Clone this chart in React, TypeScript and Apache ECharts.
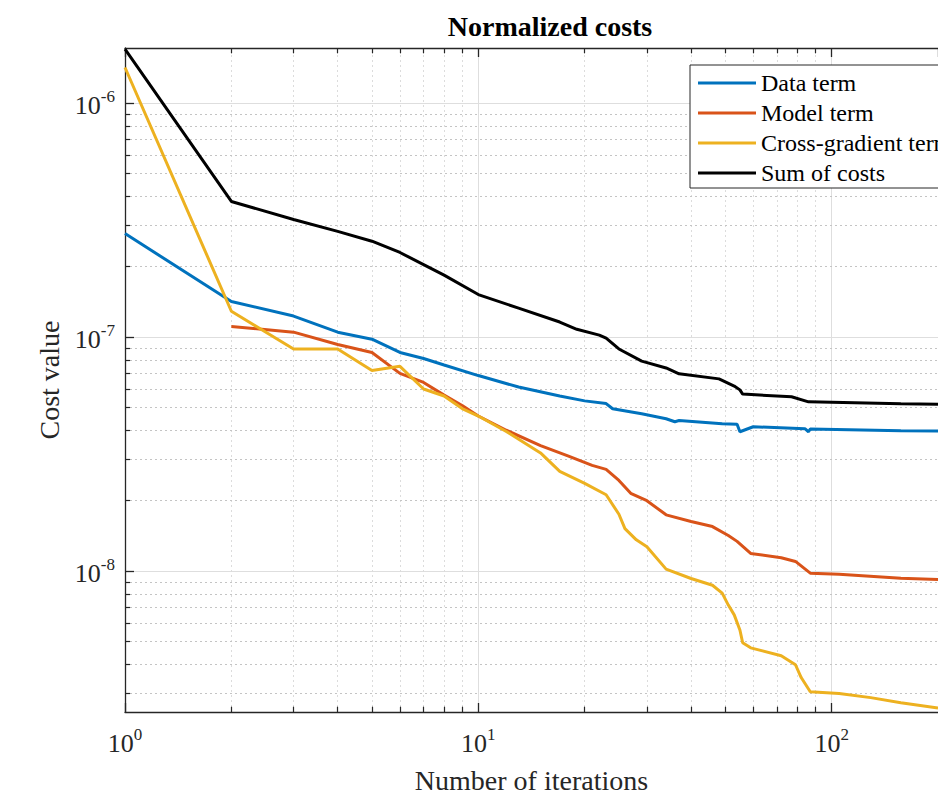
import React, { useEffect, useRef } from "react";
import * as echarts from "echarts";

// ---- Data ----
const iterSum = [1, 2, 3, 4, 5, 6, 7, 8, 10, 13, 17, 19, 22, 23, 25, 29, 34, 37, 48, 53, 55, 56, 77, 86, 157, 200];
const costSum = [1.7e-6, 3.8e-7, 3.18e-7, 2.83e-7, 2.57e-7, 2.3e-7, 2.04e-7, 1.84e-7, 1.52e-7, 1.33e-7, 1.16e-7, 1.08e-7, 1.02e-7, 9.9e-8, 8.9e-8, 7.9e-8, 7.38e-8, 6.97e-8, 6.63e-8, 6.18e-8, 5.95e-8, 5.71e-8, 5.56e-8, 5.29e-8, 5.19e-8, 5.17e-8];

const iterData = [1, 2, 3, 4, 5, 6, 7, 8, 10, 13, 17, 20, 23, 24, 29, 34, 36, 37, 49, 54, 55, 60, 84, 86, 87, 157, 200];
const costData = [2.77e-7, 1.42e-7, 1.23e-7, 1.05e-7, 9.8e-8, 8.6e-8, 8.1e-8, 7.6e-8, 6.85e-8, 6.12e-8, 5.6e-8, 5.34e-8, 5.2e-8, 4.94e-8, 4.7e-8, 4.48e-8, 4.35e-8, 4.4e-8, 4.26e-8, 4.24e-8, 3.94e-8, 4.14e-8, 4.06e-8, 3.94e-8, 4.05e-8, 3.98e-8, 3.97e-8];

const iterModel = [2, 3, 4, 5, 6, 7, 8, 9, 10, 12, 15, 18, 21, 23, 25, 27, 30, 34, 40, 46, 51, 54, 59, 72, 79, 87, 105, 157, 200];
const costModel = [1.11e-7, 1.05e-7, 9.3e-8, 8.6e-8, 7.0e-8, 6.4e-8, 5.65e-8, 5.1e-8, 4.6e-8, 4.0e-8, 3.44e-8, 3.1e-8, 2.83e-8, 2.72e-8, 2.44e-8, 2.15e-8, 2.0e-8, 1.74e-8, 1.63e-8, 1.55e-8, 1.42e-8, 1.34e-8, 1.19e-8, 1.14e-8, 1.1e-8, 9.8e-9, 9.7e-9, 9.33e-9, 9.2e-9];

const iterCross = [1, 2, 3, 4, 5, 6, 7, 8, 9, 10, 12, 15, 17, 20, 23, 25, 26, 28, 30, 34, 40, 46, 49, 51, 53, 55, 56, 59, 72, 79, 82, 87, 105, 129, 157, 200];
const costCross = [1.42e-6, 1.29e-7, 8.9e-8, 8.9e-8, 7.2e-8, 7.5e-8, 6.0e-8, 5.6e-8, 4.95e-8, 4.6e-8, 3.95e-8, 3.2e-8, 2.67e-8, 2.37e-8, 2.12e-8, 1.75e-8, 1.52e-8, 1.36e-8, 1.27e-8, 1.02e-8, 9.3e-9, 8.7e-9, 8.05e-9, 7.16e-9, 6.5e-9, 5.6e-9, 4.94e-9, 4.7e-9, 4.35e-9, 3.98e-9, 3.51e-9, 3.05e-9, 3.0e-9, 2.88e-9, 2.74e-9, 2.6e-9];

const seriesNames = ["Data term", "Model term", "Cross-gradient term", "Sum of costs"];

const xMinor = [2, 3, 4, 5, 6, 7, 8, 9, 20, 30, 40, 50, 60, 70, 80, 90];
const yMinor = [3e-9, 4e-9, 5e-9, 6e-9, 7e-9, 8e-9, 9e-9, 2e-8, 3e-8, 4e-8, 5e-8, 6e-8, 7e-8, 8e-8, 9e-8, 2e-7, 3e-7, 4e-7, 5e-7, 6e-7, 7e-7, 8e-7, 9e-7];

const X_MIN = 1;
const X_MAX = 200;
const Y_MIN = 2.5e-9;
const Y_MAX = 1.72e-6;

const FONT = '"Liberation Serif", "Times New Roman", serif';
const AXIS_COLOR = "#262626";

const pairs = (xs: number[], ys: number[]) => xs.map((x, i) => [x, ys[i]]);

const powLabel = (v: number) => {
  const e = Math.log10(v);
  const r = Math.round(e);
  if (Math.abs(e - r) > 1e-6) return "";
  return `{b|10}{s|${r}}`;
};

const richPow = {
  b: { fontFamily: FONT, fontSize: 26, color: AXIS_COLOR, lineHeight: 30, verticalAlign: "bottom" },
  s: { fontFamily: FONT, fontSize: 17, color: AXIS_COLOR, lineHeight: 20, verticalAlign: "top" },
};

// minor tick length expressed as a fraction of each log axis span
const TICK_FRAC = 0.008;

export default function App() {
  const ref = useRef<HTMLDivElement>(null);

  useEffect(() => {
    document.body.style.margin = "0";
    const chart = echarts.init(ref.current as HTMLDivElement, undefined, { renderer: "svg" });

    const lxMin = Math.log10(X_MIN);
    const lxMax = Math.log10(X_MAX);
    const lyMin = Math.log10(Y_MIN);
    const lyMax = Math.log10(Y_MAX);
    const xTickEnd = Math.pow(10, lxMin + (lxMax - lxMin) * TICK_FRAC * (665 / 851));
    const yTickLo = Math.pow(10, lyMin + (lyMax - lyMin) * TICK_FRAC);
    const yTickHi = Math.pow(10, lyMax - (lyMax - lyMin) * TICK_FRAC);

    const lineSeries = (name: string, data: number[][], color: string) => ({
      name,
      type: "line",
      data,
      symbol: "none",
      showSymbol: false,
      clip: true,
      lineStyle: { color, width: 3 },
      itemStyle: { color },
      z: 5,
    });

    const gridV = { type: [2, 3], color: "#dcdcdc", width: 1 };
    const gridH = { type: [2, 3], color: "#c4c4c4", width: 1 };
    const tickStyle = { type: "solid", color: AXIS_COLOR, width: 1.2 };

    const option: any = {
      animation: false,
      backgroundColor: "#ffffff",
      title: {
        text: "Normalized costs",
        left: 550,
        top: 12,
        textAlign: "center",
        padding: 0,
        textStyle: { fontFamily: FONT, fontSize: 28, fontWeight: "bold", color: "#000" },
      },
      legend: {
        orient: "vertical",
        left: 690,
        top: 65,
        z: 20,
        data: seriesNames,
        icon: "rect",
        itemWidth: 58,
        itemHeight: 3,
        itemGap: 6,
        padding: [6, 20, 3, 8],
        backgroundColor: "#ffffff",
        borderColor: AXIS_COLOR,
        borderWidth: 1,
        textStyle: { fontFamily: FONT, fontSize: 24, lineHeight: 24, color: "#000" },
        selectedMode: false,
      },
      grid: { left: 125, top: 48, width: 851, height: 665, containLabel: false },
      xAxis: [
        {
          type: "log",
          logBase: 10,
          min: X_MIN,
          max: X_MAX,
          position: "bottom",
          axisLine: { show: true, lineStyle: { color: AXIS_COLOR, width: 1.3 } },
          axisTick: { show: true, inside: true, length: 9, lineStyle: { color: AXIS_COLOR, width: 1.3 } },
          axisLabel: { formatter: powLabel, rich: richPow, margin: 14, showMinLabel: true, showMaxLabel: false },
          splitLine: { show: true, lineStyle: { color: "#dedede", width: 1 } },
          name: "Number of iterations",
          nameLocation: "middle",
          nameGap: 54,
          nameTextStyle: { fontFamily: FONT, fontSize: 28, color: AXIS_COLOR },
        },
        {
          type: "log",
          logBase: 10,
          min: X_MIN,
          max: X_MAX,
          position: "top",
          axisLine: { show: true, lineStyle: { color: AXIS_COLOR, width: 1.3 } },
          axisTick: { show: true, inside: true, length: 9, lineStyle: { color: AXIS_COLOR, width: 1.3 } },
          axisLabel: { show: false },
          splitLine: { show: false },
        },
      ],
      yAxis: [
        {
          type: "log",
          logBase: 10,
          min: Y_MIN,
          max: Y_MAX,
          axisLine: { show: true, lineStyle: { color: AXIS_COLOR, width: 1.3 } },
          axisTick: { show: true, inside: true, length: 9, lineStyle: { color: AXIS_COLOR, width: 1.3 } },
          axisLabel: { formatter: powLabel, rich: richPow, margin: 10, showMinLabel: false, showMaxLabel: false },
          splitLine: { show: true, lineStyle: { color: "#dedede", width: 1 } },
          name: "Cost value",
          nameLocation: "middle",
          nameGap: 62,
          nameTextStyle: { fontFamily: FONT, fontSize: 28, color: AXIS_COLOR },
        },
      ],
      series: [
        {
          name: "minor-grid",
          type: "line",
          data: [],
          silent: true,
          z: 1,
          markLine: {
            silent: true,
            z: 1,
            symbol: ["none", "none"],
            label: { show: false },
            animation: false,
            data: [
              ...xMinor.map((v) => [
                { coord: [v, Y_MIN], lineStyle: gridV },
                { coord: [v, Y_MAX] },
              ]),
              ...yMinor.map((v) => [
                { coord: [X_MIN, v], lineStyle: gridH },
                { coord: [X_MAX, v] },
              ]),
              // minor ticks on the axes
              ...xMinor.map((v) => [
                { coord: [v, Y_MIN], lineStyle: tickStyle },
                { coord: [v, yTickLo] },
              ]),
              ...xMinor.map((v) => [
                { coord: [v, Y_MAX], lineStyle: tickStyle },
                { coord: [v, yTickHi] },
              ]),
              ...yMinor.map((v) => [
                { coord: [X_MIN, v], lineStyle: tickStyle },
                { coord: [xTickEnd, v] },
              ]),
            ],
          },
        },
        lineSeries(seriesNames[0], pairs(iterData, costData), "#0072BD"),
        lineSeries(seriesNames[1], pairs(iterModel, costModel), "#D95319"),
        lineSeries(seriesNames[2], pairs(iterCross, costCross), "#EDB120"),
        lineSeries(seriesNames[3], pairs(iterSum, costSum), "#000000"),
      ],
    };

    chart.setOption(option);
    return () => chart.dispose();
  }, []);

  return (
    <div
      ref={ref}
      style={{ position: "absolute", left: 0, top: 0, width: 938, height: 799, background: "#fff", overflow: "hidden" }}
    />
  );
}
